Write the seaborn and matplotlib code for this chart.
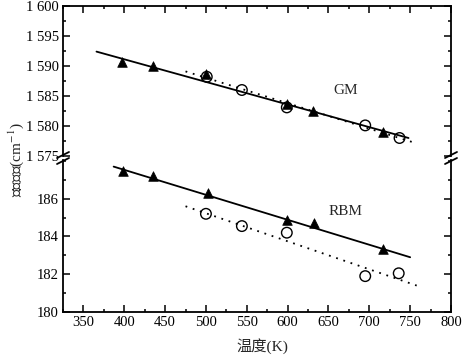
import matplotlib
matplotlib.use("Agg")
import matplotlib.pyplot as plt
from matplotlib.lines import Line2D
from matplotlib.ticker import MultipleLocator, FuncFormatter
import pandas as pd
import seaborn as sns

# GM band (upper panel)
gm_tri_x = [397, 435, 500, 599, 631, 717]
gm_tri_y = [1590.6, 1590.0, 1588.6, 1583.6, 1582.5, 1579.0]
gm_cir_x = [501, 544, 599, 695, 737]
gm_cir_y = [1588.2, 1586.0, 1583.1, 1580.1, 1578.0]
gm_fit_x = [366, 748]
gm_fit_y = [1592.4, 1578.0]
gm_dot_x = [475, 758]
gm_dot_y = [1589.1, 1577.1]

# RBM band (lower panel)
rbm_tri_x = [398, 435, 502, 599, 632, 717]
rbm_tri_y = [187.45, 187.2, 186.3, 184.85, 184.7, 183.35]
rbm_cir_x = [500, 544, 599, 695, 736]
rbm_cir_y = [185.2, 184.55, 184.2, 181.9, 182.05]
rbm_fit_x = [387, 750]
rbm_fit_y = [187.7, 182.9]
rbm_dot_x = [475, 758]
rbm_dot_y = [185.6, 181.4]

x_ticks = [350, 400, 450, 500, 550, 600, 650, 700, 750, 800]
gm_ticks = [1575, 1580, 1585, 1590, 1595, 1600]
rbm_ticks = [180, 182, 184, 186]

sns.set_theme(style="ticks")
plt.rcParams["font.family"] = ["Liberation Serif", "Noto Sans CJK SC"]
plt.rcParams["mathtext.fontset"] = "stix"

W, H = 462, 355
fig = plt.figure(figsize=(W / 100, H / 100), dpi=100)
left, right = 63 / W, 451 / W
ax_top = fig.add_axes([left, 1 - 156 / H, right - left, (156 - 6) / H])
ax_bot = fig.add_axes([left, 1 - 312 / H, right - left, (312 - 160) / H])


def draw_panel(ax, tx, ty, cx, cy, fx, fy, dx, dy):
    sns.lineplot(data=pd.DataFrame({"x": fx, "y": fy}), x="x", y="y",
                 color="black", lw=1.3, ax=ax)
    sns.lineplot(data=pd.DataFrame({"x": dx, "y": dy}), x="x", y="y",
                 color="black", lw=1.3, linestyle=(0, (1, 3.2)), ax=ax)
    sns.scatterplot(data=pd.DataFrame({"x": tx, "y": ty}), x="x", y="y",
                    marker="^", s=48, color="black", edgecolor="black",
                    linewidth=0.5, zorder=4, ax=ax)
    sns.scatterplot(data=pd.DataFrame({"x": cx, "y": cy}), x="x", y="y",
                    marker="o", s=58, facecolors="none", edgecolors="black",
                    linewidths=1.0, zorder=3, ax=ax)
    ax.set_xlim(325, 800)
    ax.set_xlabel("")
    ax.set_ylabel("")
    ax.xaxis.set_major_locator(MultipleLocator(50))
    ax.xaxis.set_minor_locator(MultipleLocator(25))
    for s in ax.spines.values():
        s.set_linewidth(1.3)
        s.set_color("black")
    ax.tick_params(which="both", direction="in", width=1.1, colors="black",
                   right=True, top=True, labelsize=10.5, pad=3)
    ax.tick_params(which="major", length=5)
    ax.tick_params(which="minor", length=2.5)


draw_panel(ax_top, gm_tri_x, gm_tri_y, gm_cir_x, gm_cir_y,
           gm_fit_x, gm_fit_y, gm_dot_x, gm_dot_y)
draw_panel(ax_bot, rbm_tri_x, rbm_tri_y, rbm_cir_x, rbm_cir_y,
           rbm_fit_x, rbm_fit_y, rbm_dot_x, rbm_dot_y)

ax_top.set_ylim(1575, 1600)
ax_top.set_yticks(gm_ticks)
ax_top.yaxis.set_minor_locator(MultipleLocator(2.5))
ax_top.yaxis.set_major_formatter(FuncFormatter(lambda v, p: f"{int(v):,}".replace(",", " ")))
ax_top.spines["bottom"].set_visible(False)
ax_top.tick_params(which="both", bottom=False, labelbottom=False)

ax_bot.set_ylim(180, 188.05)
ax_bot.set_yticks(rbm_ticks)
ax_bot.yaxis.set_minor_locator(MultipleLocator(1))
ax_bot.set_xticks(x_ticks)
ax_bot.spines["top"].set_visible(False)
ax_bot.tick_params(which="both", top=False)

ax_top.text(671, 1586, "GM", fontsize=11, ha="center", va="center")
ax_bot.text(671, 185.3, "RBM", fontsize=11, ha="center", va="center")

# break marks on both vertical spines
for xp in (63, 451):
    for yp in (155, 161):
        fig.add_artist(Line2D([(xp - 6) / W, (xp + 6) / W],
                              [1 - (yp + 3) / H, 1 - (yp - 3) / H],
                              color="black", lw=1.3, transform=fig.transFigure))

fig.text(16 / W, 1 - 160 / H, "拉曼频移(cm$^{-1}$)", rotation=90,
         ha="center", va="center", fontsize=11)
fig.text(262 / W, 1 - 346 / H, "温度(K)", ha="center", va="center", fontsize=11)

fig.savefig("out.png", dpi=100)
